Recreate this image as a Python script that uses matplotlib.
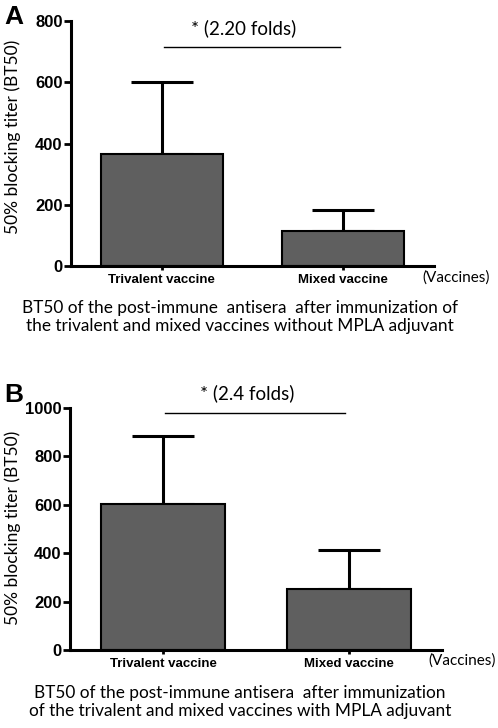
import numpy as np
import matplotlib.pyplot as plt

plt.rcParams["font.family"] = ["Liberation Sans", "DejaVu Sans"]

W, H = 498, 728

groups = ["Trivalent vaccine", "Mixed vaccine"]

# panel A: without MPLA
a_mean = [366, 114]
a_err = [234, 69]
a_ticks = [0, 200, 400, 600, 800]
a_sig = "* (2.20 folds)"
a_caption = ("BT50 of the post-immune  antisera  after immunization of\n"
             "the trivalent and mixed vaccines without MPLA adjuvant")

# panel B: with MPLA
b_mean = [603, 252]
b_err = [281, 161]
b_ticks = [0, 200, 400, 600, 800, 1000]
b_sig = "* (2.4 folds)"
b_caption = ("BT50 of the post-immune antisera  after immunization\n"
             "of the trivalent and mixed vaccines with MPLA adjuvant")

fig = plt.figure(figsize=(W / 100, H / 100), dpi=100)
lato = ["Lato", "DejaVu Sans"]


def px_axes(left, right, bottom, top):
    return fig.add_axes([left / W, 1 - bottom / H, (right - left) / W, (bottom - top) / H])


def panel(ax, mean, err, ticks, sig, sig_y, txt_y):
    x = np.arange(len(groups))
    ax.bar(x, mean, width=0.67, color="#5f5f5f", edgecolor="black", linewidth=1.5, zorder=2)
    ax.errorbar(x, mean, yerr=[np.zeros(len(err)), err], fmt="none", ecolor="black",
                elinewidth=2.2, capsize=22, capthick=2.2, zorder=1)
    ax.set_xlim(-0.5, 1.5)
    ax.set_ylim(0, ticks[-1])
    ax.set_yticks(ticks)
    ax.set_xticks(x)
    ax.set_xticklabels(groups, fontsize=9.5, fontweight="bold")
    for lab in ax.get_yticklabels():
        lab.set_fontweight("bold")
        lab.set_fontsize(12)
    ax.tick_params(axis="y", width=2, length=5, pad=1)
    ax.tick_params(axis="x", width=2, length=3, pad=3)
    for s in ["top", "right"]:
        ax.spines[s].set_visible(False)
    for s in ["left", "bottom"]:
        ax.spines[s].set_linewidth(2.2)
    ax.plot([0.01, 0.98], [sig_y, sig_y], color="black", lw=1, clip_on=False)
    ax.text(0.45, txt_y, sig, ha="center", va="center", fontsize=13.5,
            family=lato, clip_on=False)


axA = px_axes(71, 434, 266, 21)
panel(axA, a_mean, a_err, a_ticks, a_sig, 715, 777)
axB = px_axes(70, 442, 650, 408)
panel(axB, b_mean, b_err, b_ticks, b_sig, 979, 1062)

for lab, ly, cy, vy, vx, cap, cap_y in [
    ("A", 17, 137, 278, 456, a_caption, 317),
    ("B", 395, 528, 661, 462, b_caption, 702),
]:
    fig.text(14 / W, 1 - ly / H, lab, fontsize=19, fontweight="bold", ha="center", va="center")
    fig.text(13 / W, 1 - cy / H, "50% blocking titer (BT50)", rotation=90, fontsize=12.5,
             family=lato, ha="center", va="center")
    fig.text(vx / W, 1 - vy / H, "(Vaccines)", fontsize=11, family=lato, ha="center", va="center")
    fig.text(240 / W, 1 - cap_y / H, cap, fontsize=12.4, family=lato, ha="center", va="center",
             linespacing=1.1)

fig.savefig("out.png", dpi=100)
